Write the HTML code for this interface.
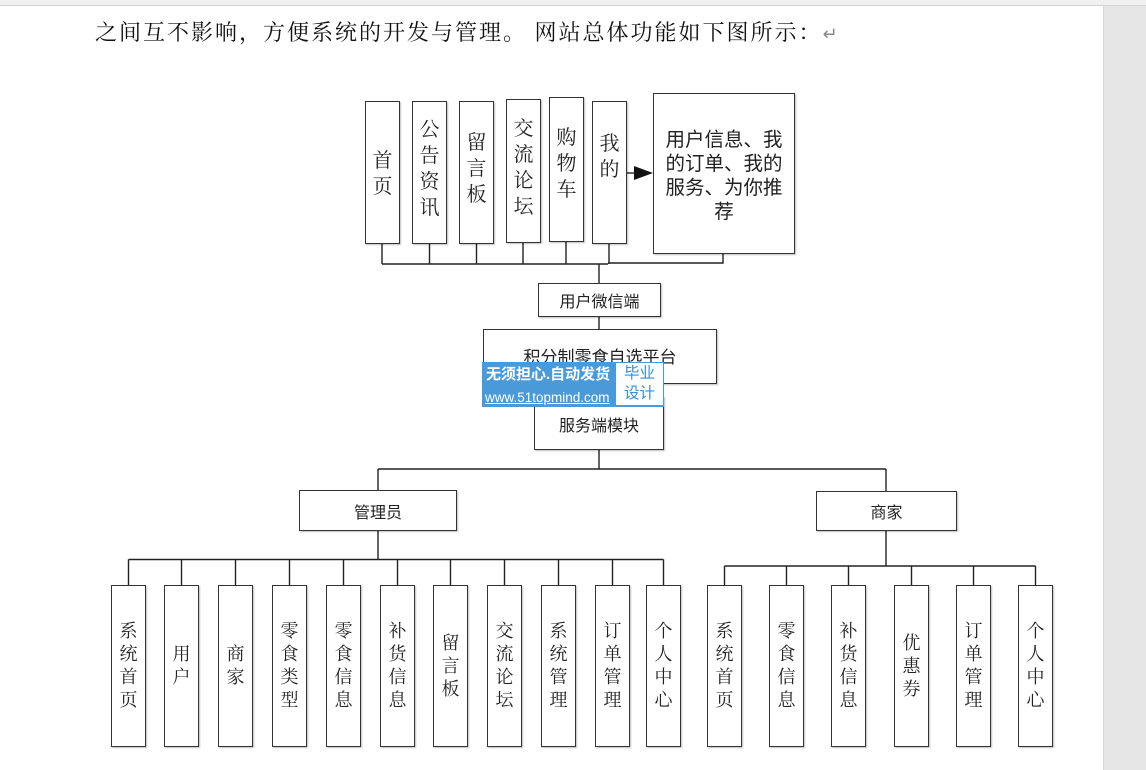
<!DOCTYPE html>
<html><head><meta charset="utf-8">
<style>
html,body{margin:0;padding:0;}
body{width:1146px;height:770px;position:relative;overflow:hidden;background:#fff;font-family:"Liberation Sans","Noto Sans CJK SC",sans-serif;}
.b{position:absolute;box-sizing:border-box;border:1.4px solid #333;background:#fff;box-shadow:1px 1px 1.5px rgba(0,0,0,0.25);display:flex;align-items:center;justify-content:center;text-align:center;color:#222;}
.v{font-family:"Liberation Serif","Noto Serif CJK SC",serif;font-size:18px;line-height:23px;}
.t{font-family:"Liberation Serif","Noto Serif CJK SC",serif;font-size:20px;line-height:26px;}
.h{font-family:"Liberation Sans","Noto Sans CJK SC",sans-serif;font-size:16px;}
svg{position:absolute;left:0;top:0;}
</style></head><body>
<div style="position:absolute;left:0;top:0;width:1146px;height:5px;background:#f0f0f0;border-bottom:1px solid #d4d4d4;"></div>
<div style="position:absolute;left:1103px;top:6px;width:43px;height:764px;background:#e6e6e6;border-left:1px solid #d6d6d6;"></div>
<div style="position:absolute;left:95px;top:19px;white-space:nowrap;font-family:'Liberation Serif','Noto Serif CJK SC',serif;font-size:22px;line-height:28px;letter-spacing:2px;color:#111;">之间互不影响，方便系统的开发与管理。 网站总体功能如下图所示：<span style="color:#888;font-family:'DejaVu Sans',sans-serif;font-size:18px;">↵</span></div>

<svg width="1146" height="770">
<g stroke="#222" stroke-width="1.4" fill="none">
<line x1="382" y1="264" x2="608" y2="264"/>
<line x1="382" y1="244" x2="382" y2="264"/>
<line x1="429.5" y1="244" x2="429.5" y2="264"/>
<line x1="476.5" y1="244" x2="476.5" y2="264"/>
<line x1="523" y1="243" x2="523" y2="264"/>
<line x1="566" y1="242" x2="566" y2="264"/>
<line x1="609" y1="244" x2="609" y2="264"/>
<polyline points="608,263 723,263 723,253"/>
<line x1="599" y1="264" x2="599" y2="284"/>
<line x1="599" y1="316" x2="599" y2="329"/>
<line x1="599" y1="383" x2="599" y2="397"/>
<line x1="599" y1="449" x2="599" y2="469"/>
<line x1="378" y1="469" x2="886" y2="469"/>
<line x1="378" y1="469" x2="378" y2="490"/>
<line x1="886" y1="469" x2="886" y2="491"/>
<line x1="378" y1="531" x2="378" y2="559.5"/>
<line x1="128.5" y1="559.5" x2="663.5" y2="559.5"/>
<line x1="886" y1="531" x2="886" y2="566"/>
<line x1="724.5" y1="566" x2="1035.5" y2="566"/>
<line x1="626" y1="173" x2="636" y2="173"/>
</g>
<polygon points="634,166 653,173 634,180" fill="#111"/>
<g stroke="#222" stroke-width="1.4">
<line x1="128.5" y1="559.5" x2="128.5" y2="585"/>
<line x1="181.5" y1="559.5" x2="181.5" y2="585"/>
<line x1="235.5" y1="559.5" x2="235.5" y2="585"/>
<line x1="289.5" y1="559.5" x2="289.5" y2="585"/>
<line x1="343.5" y1="559.5" x2="343.5" y2="585"/>
<line x1="397.5" y1="559.5" x2="397.5" y2="585"/>
<line x1="450.5" y1="559.5" x2="450.5" y2="585"/>
<line x1="504.5" y1="559.5" x2="504.5" y2="585"/>
<line x1="558.5" y1="559.5" x2="558.5" y2="585"/>
<line x1="612.5" y1="559.5" x2="612.5" y2="585"/>
<line x1="663.5" y1="559.5" x2="663.5" y2="585"/>
<line x1="724.5" y1="566" x2="724.5" y2="585"/>
<line x1="786.5" y1="566" x2="786.5" y2="585"/>
<line x1="848.5" y1="566" x2="848.5" y2="585"/>
<line x1="911.5" y1="566" x2="911.5" y2="585"/>
<line x1="973.5" y1="566" x2="973.5" y2="585"/>
<line x1="1035.5" y1="566" x2="1035.5" y2="585"/>
</g>
</svg>

<!-- top row -->
<div class="b t" style="left:365px;top:101px;width:35px;height:143px;padding-top:2px;">首<br>页</div>
<div class="b t" style="left:412px;top:101px;width:35px;height:143px;padding-bottom:8px;">公<br>告<br>资<br>讯</div>
<div class="b t" style="left:459px;top:101px;width:35px;height:143px;padding-bottom:8px;">留<br>言<br>板</div>
<div class="b t" style="left:506px;top:99px;width:35px;height:144px;padding-bottom:6px;">交<br>流<br>论<br>坛</div>
<div class="b t" style="left:549px;top:97px;width:35px;height:145px;padding-bottom:12px;">购<br>物<br>车</div>
<div class="b t" style="left:592px;top:101px;width:35px;height:143px;padding-bottom:32px;">我<br>的</div>
<div class="b" style="left:653px;top:93px;width:142px;height:161px;font-family:'Liberation Sans','Noto Sans CJK SC',sans-serif;font-size:19.5px;line-height:24px;padding:0 5px;padding-top:4px;">用户信息、我的订单、我的服务、为你推荐</div>

<div class="b h" style="left:538px;top:283px;width:123px;height:34px;">用户微信端</div>
<div class="b h" style="left:483px;top:329px;width:234px;height:55px;font-size:17px;padding-bottom:2px;">积分制零食自选平台</div>
<div class="b h" style="left:534px;top:396px;width:130px;height:54px;padding-top:1px;">服务端模块</div>

<!-- watermark -->
<div style="position:absolute;left:482px;top:362px;width:182px;height:45px;background:#4a9ad9;"></div>
<div style="position:absolute;left:616px;top:363px;width:47px;height:42px;background:#fbfdff;color:#3a8ed6;font-family:'Liberation Sans','Noto Sans CJK SC',sans-serif;font-size:15.5px;line-height:20px;text-align:center;padding-top:1px;box-sizing:border-box;">毕业<br>设计</div>
<div style="position:absolute;left:486px;top:365px;width:128px;font-family:'Liberation Sans','Noto Sans CJK SC',sans-serif;font-size:15px;line-height:20px;color:#fff;font-weight:bold;white-space:nowrap;">无须担心.自动发货</div>
<div style="position:absolute;left:485px;top:389px;width:130px;font-family:'Liberation Sans','Noto Sans CJK SC',sans-serif;font-size:13.5px;line-height:17px;color:#fff;white-space:nowrap;text-decoration:underline;">www.51topmind.com</div>

<div class="b h" style="left:299px;top:490px;width:158px;height:41px;">管理员</div>
<div class="b h" style="left:816px;top:491px;width:141px;height:40px;">商家</div>

<!-- admin leaves -->
<div class="b v" style="left:111px;top:585px;width:35px;height:162px;">系<br>统<br>首<br>页</div>
<div class="b v" style="left:164px;top:585px;width:35px;height:162px;">用<br>户</div>
<div class="b v" style="left:218px;top:585px;width:35px;height:162px;">商<br>家</div>
<div class="b v" style="left:272px;top:585px;width:35px;height:162px;">零<br>食<br>类<br>型</div>
<div class="b v" style="left:326px;top:585px;width:35px;height:162px;">零<br>食<br>信<br>息</div>
<div class="b v" style="left:380px;top:585px;width:35px;height:162px;">补<br>货<br>信<br>息</div>
<div class="b v" style="left:433px;top:585px;width:35px;height:162px;">留<br>言<br>板</div>
<div class="b v" style="left:487px;top:585px;width:35px;height:162px;">交<br>流<br>论<br>坛</div>
<div class="b v" style="left:541px;top:585px;width:35px;height:162px;">系<br>统<br>管<br>理</div>
<div class="b v" style="left:595px;top:585px;width:35px;height:162px;">订<br>单<br>管<br>理</div>
<div class="b v" style="left:646px;top:585px;width:35px;height:162px;">个<br>人<br>中<br>心</div>

<!-- merchant leaves -->
<div class="b v" style="left:707px;top:585px;width:35px;height:162px;">系<br>统<br>首<br>页</div>
<div class="b v" style="left:769px;top:585px;width:35px;height:162px;">零<br>食<br>信<br>息</div>
<div class="b v" style="left:831px;top:585px;width:35px;height:162px;">补<br>货<br>信<br>息</div>
<div class="b v" style="left:894px;top:585px;width:35px;height:162px;">优<br>惠<br>券</div>
<div class="b v" style="left:956px;top:585px;width:35px;height:162px;">订<br>单<br>管<br>理</div>
<div class="b v" style="left:1018px;top:585px;width:35px;height:162px;">个<br>人<br>中<br>心</div>
</body></html>
